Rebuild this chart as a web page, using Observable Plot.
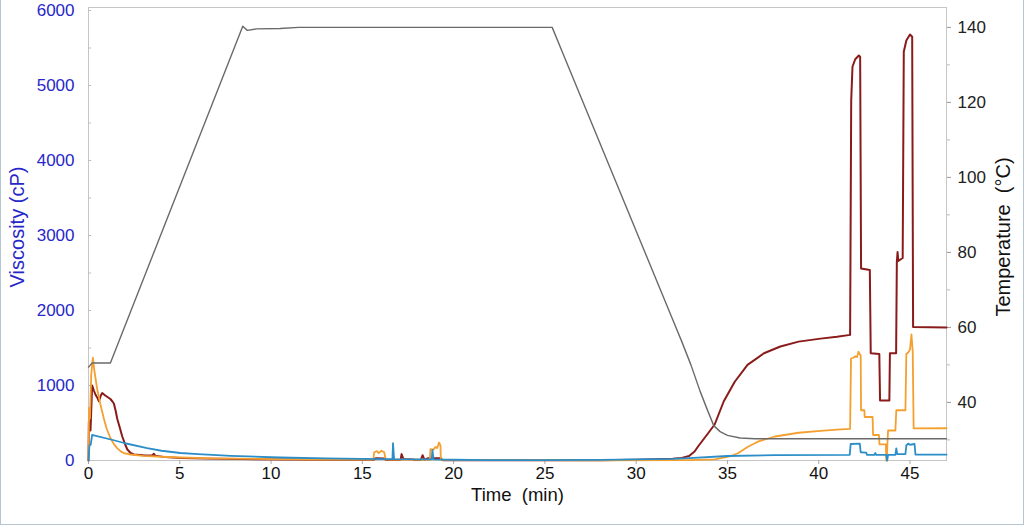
<!DOCTYPE html>
<html>
<head>
<meta charset="utf-8">
<script src="https://cdn.jsdelivr.net/npm/d3@7"></script>
<script src="https://cdn.jsdelivr.net/npm/@observablehq/plot@0.6"></script>
<style>
  html, body { margin: 0; padding: 0; background: #ffffff; }
  #wrap { position: relative; width: 1024px; height: 526px; overflow: hidden; }
  #border { position: absolute; left: 0; top: -2px; width: 1022px; height: 525px;
            border: 1px solid #b4c6d3; pointer-events: none; }
</style>
</head>
<body>
<div id="wrap"><div id="chart"></div><div id="border"></div></div>
<script>
// ---- tick values / labels ----
const timeTicks = [0, 5, 10, 15, 20, 25, 30, 35, 40, 45];
const viscTicks = [0, 1000, 2000, 3000, 4000, 5000, 6000];
const viscMinorTicks = [500, 1500, 2500, 3500, 4500, 5500];
const tempTicks = [40, 60, 80, 100, 120, 140];
const tempMinorTicks = [30, 50, 70, 90, 110, 130];

const xLabel = "Time  (min)";
const yLeftLabel = "Viscosity (cP)";
const yRightLabel = "Temperature  (°C)";

// ---- temperature profile (°C, right axis) ----
const tempTime = [0, 0.2, 1.2, 8.45, 8.7, 9.2, 10.5, 11.5, 25.4, 26.0, 32.0, 32.5, 33.0, 33.5, 33.9, 34.25, 34.6, 35.0, 35.7, 36.5, 47];
const tempC    = [49.4, 50.5, 50.5, 140.3, 139.2, 139.6, 139.7, 140, 140, 132.9, 62.1, 56.2, 50.0, 43.0, 38.0, 33.8, 32.2, 31.2, 30.5, 30.3, 30.3];

// ---- viscosity, dark red sample (cP) ----
const redTime = [0, 0.02, 0.06, 0.11, 0.2, 0.3, 0.38, 0.5, 0.57, 0.68, 0.75, 0.9, 1.02, 1.2, 1.3, 1.39, 1.5, 1.57, 1.7, 1.85, 2.0, 2.12, 2.3, 2.49, 3.0, 3.5, 3.58, 3.65, 4.2, 5.04, 6.5, 8.4, 11, 13, 15.6, 15.75, 16.2, 16.3, 17.1, 17.15, 17.25, 17.8, 17.85, 18.2, 18.3, 18.4, 18.6, 19.3, 19.4, 22, 25, 28, 30, 32, 32.5, 32.9, 33.2, 33.4, 33.9, 34.3, 34.8, 35.4, 36.1, 37.0, 37.9, 38.9, 40.1, 41.0, 41.72, 41.78, 41.85, 42.0, 42.2, 42.27, 42.32, 42.8, 42.85, 43.32, 43.36, 43.87, 43.9, 44.24, 44.28, 44.32, 44.36, 44.6, 44.66, 44.8, 45.0, 45.12, 45.17, 47];
const redVisc = [0, 520, 450, 400, 1000, 930, 880, 830, 790, 870, 900, 870, 850, 820, 790, 760, 650, 560, 450, 320, 220, 150, 100, 80, 70, 68, 90, 65, 45, 32, 25, 20, 12, 10, 10, 30, 28, 8, 10, 85, 20, 15, 5, 8, 70, 10, 30, 30, 5, 3, 3, 5, 10, 25, 35, 60, 120, 190, 350, 480, 790, 1050, 1275, 1430, 1520, 1585, 1625, 1650, 1675, 4800, 5250, 5350, 5400, 5380, 2560, 2540, 1430, 1420, 800, 800, 1430, 1430, 2650, 2780, 2660, 2700, 5450, 5600, 5680, 5650, 1780, 1772];

// ---- viscosity, orange sample (cP) ----
const orangeTime = [0, 0.03, 0.08, 0.15, 0.24, 0.32, 0.47, 0.65, 0.84, 1.0, 1.2, 1.4, 1.57, 1.75, 1.94, 2.3, 3, 4, 5, 7, 10, 13, 15.6, 15.65, 15.8, 15.9, 16.05, 16.2, 16.28, 18.7, 18.73, 18.9, 19.0, 19.1, 19.2, 19.28, 19.3, 22, 28, 32.9, 34.3, 35.0, 35.3, 35.6, 36.1, 36.5, 36.7, 37.6, 38.9, 40.1, 41.0, 41.72, 41.77, 41.9, 42.0, 42.1, 42.18, 42.25, 42.3, 42.32, 42.5, 42.52, 42.95, 42.98, 43.3, 43.33, 43.68, 43.7, 43.74, 43.76, 43.8, 44.2, 44.25, 44.75, 44.8, 44.9, 45.0, 45.08, 45.15, 45.2, 47];
const orangeVisc = [0, 700, 560, 1150, 1370, 1200, 960, 750, 560, 420, 300, 215, 165, 125, 97, 80, 62, 50, 40, 28, 18, 12, 12, 110, 125, 100, 130, 110, 12, 10, 150, 145, 180, 165, 240, 200, 10, 5, 3, 6, 14, 48, 70, 100, 180, 230, 255, 320, 370, 395, 412, 423, 1360, 1370, 1390, 1380, 1450, 1420, 1400, 670, 670, 580, 580, 340, 340, 215, 215, 0, 0, 215, 400, 400, 670, 670, 1420, 1440, 1480, 1680, 1450, 428, 430];

// ---- viscosity, blue sample (cP) ----
const blueTime = [0, 0.05, 0.12, 0.2, 0.3, 1.39, 2.0, 3.21, 4, 5.04, 6, 7.8, 10.5, 13, 15, 16.65, 16.68, 16.74, 18.8, 18.84, 18.9, 20, 22, 25, 28, 30, 32, 32.9, 35.0, 37.6, 41.7, 41.75, 42.25, 42.3, 42.6, 42.65, 43.05, 43.1, 43.15, 43.7, 43.75, 43.8, 44.2, 44.25, 44.3, 44.75, 44.8, 44.9, 45.0, 45.25, 45.3, 47];
const blueVisc = [0, 200, 210, 340, 335, 270, 230, 165, 130, 100, 85, 62, 40, 28, 22, 18, 230, 18, 15, 140, 15, 10, 6, 5, 8, 15, 22, 31, 60, 72, 75, 220, 225, 110, 105, 75, 75, 100, 75, 75, 0, 75, 75, 160, 85, 85, 200, 225, 210, 220, 78, 78];

// ---- mapping temperature onto the viscosity scale ----
const T0 = 24.5, perDeg = 50;       // 0 cP <-> 24.5 °C, 50 cP per °C
const toV = T => (T - T0) * perDeg;

const zip = (ts, vs) => ts.map((t, i) => ({t, v: vs[i]}));
const temp = tempTime.map((t, i) => ({t, v: toV(tempC[i])}));
const red = zip(redTime, redVisc);
const orange = zip(orangeTime, orangeVisc);
const blue = zip(blueTime, blueVisc);

const blueText = "#2727c9";
const font = "'Liberation Sans', Arial, sans-serif";

const chart = Plot.plot({
  width: 1024,
  height: 526,
  marginLeft: 88,
  marginRight: 78,
  marginTop: 7,
  marginBottom: 66,
  style: {fontFamily: font, fontSize: "17px", background: "#ffffff", color: "#111"},
  x: {domain: [0, 47]},
  y: {domain: [0, 6040]},
  marks: [
    Plot.frame({stroke: "#c6c6c6"}),
    // left axis
    Plot.axisY({anchor: "left", ticks: viscTicks, tickSize: 0, tickPadding: 14,
                fill: blueText, fontSize: 17, label: null, tickFormat: d => String(d)}),
    Plot.ruleY(viscMinorTicks.concat(viscTicks), {x1: 0, x2: 0.17, stroke: "#bdbdbd"}),
    // right axis
    Plot.axisY({anchor: "right", ticks: tempTicks.map(toV), tickSize: 4, tickPadding: 7,
                stroke: "#999", fill: "#222", fontSize: 17, label: null,
                tickFormat: v => String(Math.round(v / perDeg + T0))}),
    Plot.axisY({anchor: "right", ticks: tempMinorTicks.map(toV), tickSize: 3,
                stroke: "#bbb", label: null, tickFormat: () => ""}),
    // bottom axis
    Plot.axisX({ticks: timeTicks, tickSize: 4, tickPadding: 2, stroke: "#aaa",
                fill: "#111", fontSize: 17, label: null, tickFormat: d => String(d)}),
    // series
    Plot.line(red, {x: "t", y: "v", stroke: "#8a1b1b", strokeWidth: 2}),
    Plot.line(orange, {x: "t", y: "v", stroke: "#f4a030", strokeWidth: 1.8}),
    Plot.line(blue, {x: "t", y: "v", stroke: "#2b8ec8", strokeWidth: 1.8}),
    Plot.line(temp, {x: "t", y: "v", stroke: "#6a6a6a", strokeWidth: 1.4}),
    // titles
    Plot.text([xLabel], {frameAnchor: "bottom", dy: 40, text: d => d, fontSize: 18.5, fill: "#111"}),
    Plot.text([yLeftLabel], {frameAnchor: "left", dx: -71, dy: -7, rotate: -90, text: d => d,
                             textAnchor: "middle", fontSize: 20, fill: blueText}),
    Plot.text([yRightLabel], {frameAnchor: "right", dx: 57, dy: 3, rotate: -90, text: d => d,
                              textAnchor: "middle", fontSize: 20, fill: "#111"})
  ]
});
document.getElementById("chart").appendChild(chart);
</script>
</body>
</html>
